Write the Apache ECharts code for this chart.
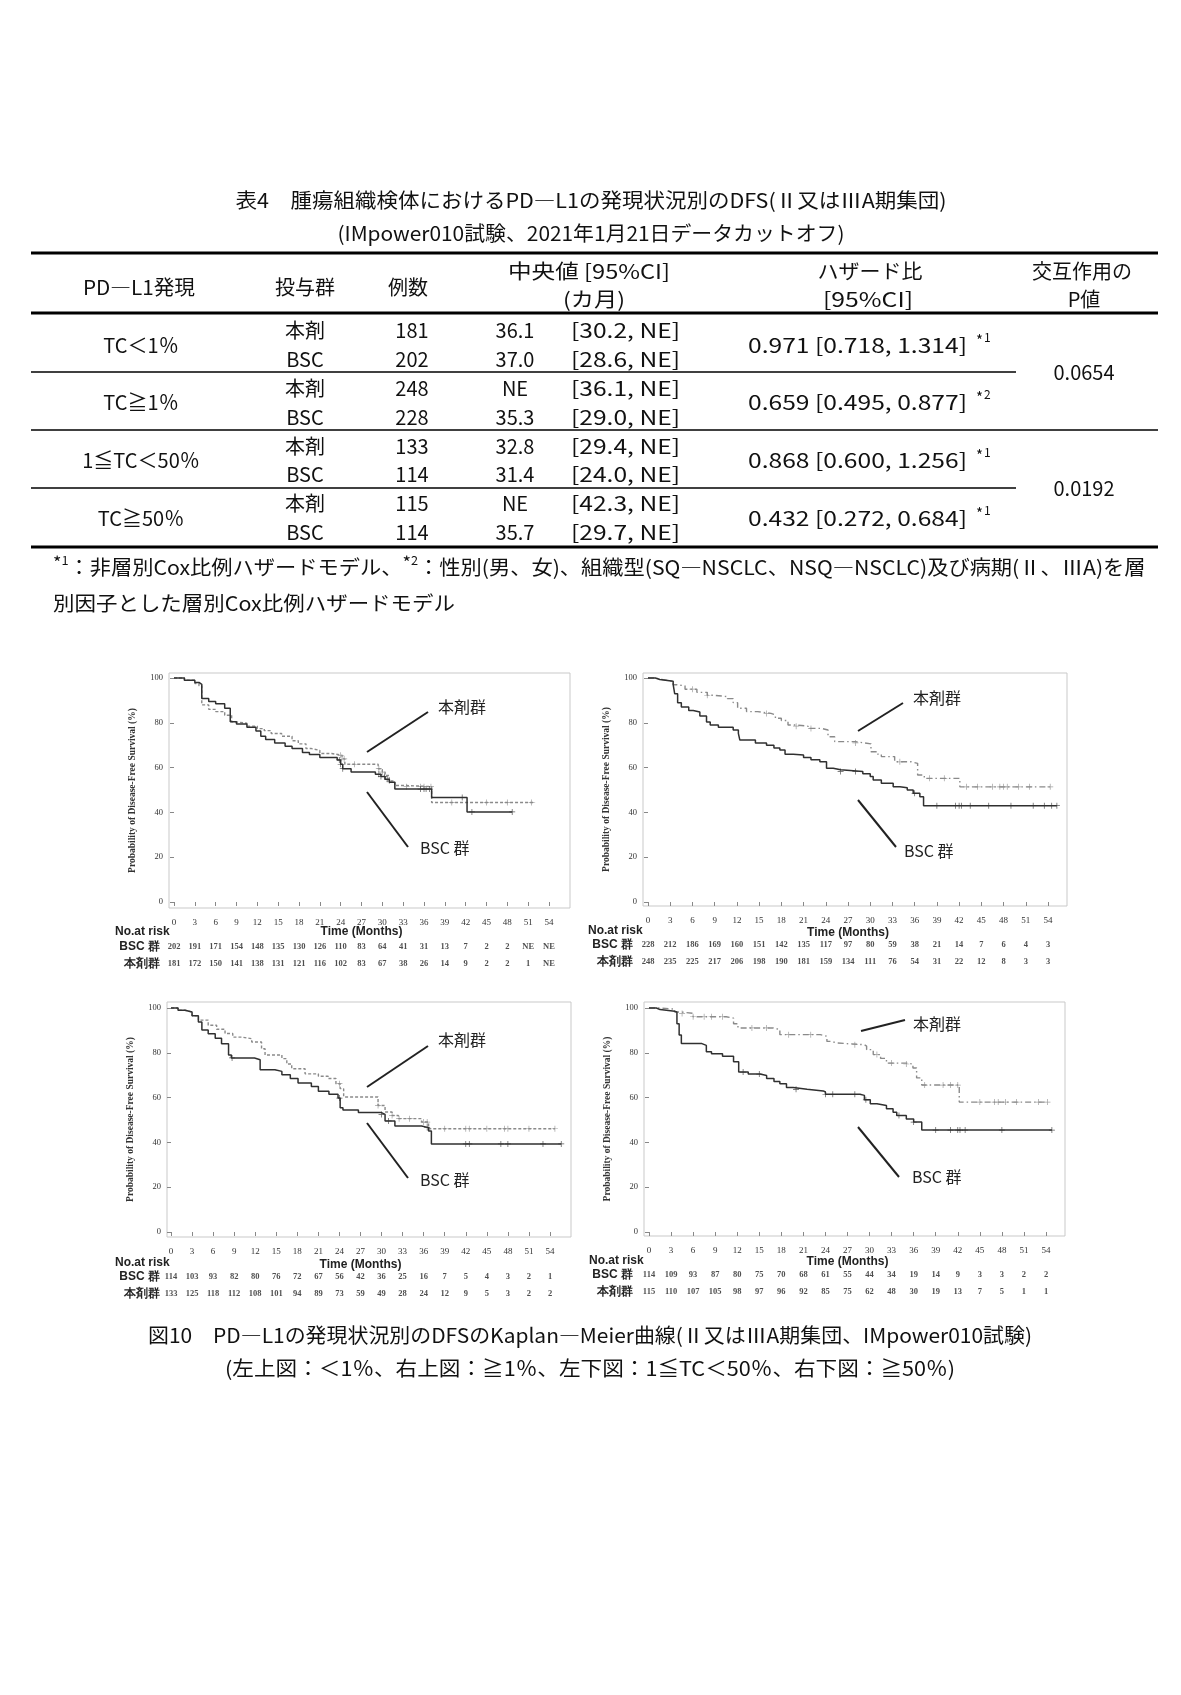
<!DOCTYPE html>
<html><head><meta charset="utf-8">
<script src="https://cdn.jsdelivr.net/npm/echarts@6/dist/echarts.min.js"></script>
<style>html,body{margin:0;padding:0;background:#fff}#c{width:1181px;height:1695px}</style>
</head><body><div id="c"></div>
<script>
// ---------- table data ----------
const pdGroups = ['TC＜1％','TC≧1％','1≦TC＜50％','TC≧50％'];
const arms = ['本剤','BSC'];
const nPatients = [181,202,248,228,133,114,115,114];
const medians = ['36.1','37.0','NE','35.3','32.8','31.4','NE','35.7'];
const medianCI = ['[30.2, NE]','[28.6, NE]','[36.1, NE]','[29.0, NE]','[29.4, NE]','[24.0, NE]','[42.3, NE]','[29.7, NE]'];
const hazard = ['0.971 [0.718, 1.314]','0.659 [0.495, 0.877]','0.868 [0.600, 1.256]','0.432 [0.272, 0.684]'];
const hrNote = ['1','2','1','1'];
const pInteraction = ['0.0654','0.0192'];

// ---------- KM axis ticks ----------
const months = [0,3,6,9,12,15,18,21,24,27,30,33,36,39,42,45,48,51,54];
const yTicks = [0,20,40,60,80,100];

// ---------- KM curves [month, survival %] ----------
const c1_bsc = [[0,100],[1.5,99],[3.0,98],[3.6,97.2],[4.0,90.8],[5,89.5],[6,88.5],[7.3,86.5],[8.1,80.5],[9,79.5],[10.5,78],[11.8,76.3],[12.5,74],[13.2,72.5],[14.5,71],[16,69.5],[17,68.5],[18.5,66.7],[19.5,65.8],[21,64.5],[23.5,63.4],[24,61.5],[24.3,59.5],[25.5,58],[29,57],[29.8,56],[30.4,54.8],[31,53.5],[31.8,50.4],[37.1,46.6],[42.2,40.2],[48.7,40.2]];
const c1_hon = [[0,100],[1.5,99],[3.0,97.5],[3.6,96.5],[4.0,88],[5,86],[6,85],[7.3,83.4],[8.3,80.4],[9,79.8],[10.5,78.5],[12,77.4],[13,76.5],[14,75.2],[15.5,74],[17,72],[17.9,70.6],[19,68.5],[19.8,67.7],[21,66.3],[22.7,65.5],[24.2,63.9],[24.6,61.5],[29.4,59.5],[30,58],[30.4,56.5],[31,54],[31.8,52],[33.5,51.5],[37.1,44.4],[52,44.4]];
const c2_bsc = [[0,100],[1,99.3],[1.6,98.5],[3.4,97],[3.6,93],[4,89],[4.5,87],[5.5,85.5],[6.1,84.8],[7,83],[7.9,80.4],[8.4,79],[9.5,78],[11.5,76.8],[12.2,75.3],[12.4,72.3],[14.5,71],[16,70],[17,68.8],[17.8,67.9],[18.5,66],[19.6,65.6],[21,64.5],[22,63.5],[23.2,62.6],[24.1,59.7],[25,59],[26,58.3],[29,57.3],[30,56],[30.4,54.5],[31.5,53],[33.1,51.5],[34,51],[35,50],[35.8,48.5],[36.7,47],[37.2,43],[55.2,43]];
const c2_hon = [[0,100],[1,99.3],[2,98.5],[3.4,97],[3.9,96.5],[5,95],[6.6,93.6],[8,92.3],[8.9,91.7],[10.7,90.8],[11.5,89],[12.1,86.5],[13.3,85],[14.8,84.2],[16.6,83.5],[17.2,82],[18,81],[18.9,79],[20,78.5],[21.6,77.5],[23.4,76.8],[24.3,73.8],[25.2,71.6],[28,71],[29.2,70.6],[30.1,67.1],[31,66],[31.5,64.9],[33.3,62.6],[35.5,61.9],[36.4,56.7],[37.3,55.2],[42.1,51.4],[54.3,51.4]];
const c3_bsc = [[0,100],[1,99],[2,98.2],[3,96.5],[3.9,93.8],[4.4,90.2],[5.3,88.5],[6.3,86.5],[7.2,84],[8.2,79],[8.6,77.7],[11.9,76.9],[12.7,72.4],[14.8,71.7],[15.8,70.2],[17,68.5],[18.1,66.5],[20,65],[21,62.8],[22.5,61.5],[23.8,59.8],[24.1,55.5],[24.5,54.5],[26.7,53.3],[30,52.5],[30.5,49.6],[31.9,47.3],[35.7,46.6],[36.7,45.1],[37.1,39.3],[55.6,39.3]];
const c3_hon = [[0,100],[1,99],[2,98.2],[3,96.5],[3.9,94.6],[5.3,92.3],[6.5,90.5],[7.7,88.6],[8.8,87],[10.1,86.3],[11.5,84.8],[12.9,81.8],[13.4,79],[15.8,77.4],[16.5,75],[17.2,72.9],[19.1,70.6],[21,69.5],[22.4,68.5],[23.5,66.2],[24.1,64],[24.6,60.3],[29.5,56.5],[30.5,53.6],[31.5,52],[32.4,50.6],[35.7,49.1],[36.7,46.1],[54.7,46.1]];
const c4_bsc = [[0,100],[1,99.3],[1.5,98.5],[3.5,98.2],[3.8,93],[4.1,88],[4.4,84.1],[7.2,83.3],[7.8,80.5],[8.5,79.6],[10,78.5],[11.5,76],[12.2,71.4],[13.5,70.5],[15.1,69.9],[16,68.5],[17,67.2],[17.8,66.2],[18.7,64.5],[19.6,63.7],[21.5,63],[23.7,62.5],[24,61.5],[28.7,61],[29.3,59],[30.1,57.3],[31,56.5],[32.3,55],[33.2,53.5],[33.7,52],[35,50.5],[36,49.1],[37.1,45.5],[54.8,45.5]];
const c4_hon = [[0,100],[1.5,99.5],[3.5,98.2],[4.4,97.6],[6,96.1],[10.5,95.5],[11.5,93],[12.1,91.1],[16.9,90.4],[17.8,88.1],[23.3,87.4],[24.2,85.1],[24.8,84.4],[25.5,83.6],[29.3,83],[29.6,81.4],[30.5,79.2],[31.5,77.5],[32.3,75.4],[35,75],[35.9,73.2],[36.4,68.8],[37.1,65.6],[42.2,58],[54.2,58]];

// ---------- censor times (months) ----------
const c1_bscCens = [23.8,24.0,24.3,29.5,29.8,30.3,30.7,35.5,36,36.3,36.8,41.5,42.9,48.7];
const c1_honCens = [24,24.5,26,29.5,30,31,33.5,35.5,36,37,40,45,48,51.5];
const c2_bscCens = [26,28,36,39,41.5,42,42.3,43.5,46,49,52,53.5,54.5,55.2];
const c2_honCens = [6,8,16,20,22,28,34,38,40,43,44.5,46.5,47.5,48,48.5,50,51.5,54.3];
const c3_bscCens = [8.7,24,30,31,36.5,42,42.5,47,48,53,55.6];
const c3_honCens = [24,29.5,31.5,32.5,34,36,36.5,39,42,42.5,45,47.5,48,51,54.7];
const c4_bscCens = [12.8,15,20,24,25,28,29.5,34,36,39,41,42,42.3,43,48,54.8];
const c4_honCens = [4.5,6,7.5,8.5,10,14,16,19,22,28,31,33,35,37.5,40,41,42,45,47,47.5,48.5,50,53,54.2];

// ---------- numbers at risk ----------
const c1_riskBsc = ['202','191','171','154','148','135','130','126','110','83','64','41','31','13','7','2','2','NE','NE'];
const c1_riskHon = ['181','172','150','141','138','131','121','116','102','83','67','38','26','14','9','2','2','1','NE'];
const c2_riskBsc = ['228','212','186','169','160','151','142','135','117','97','80','59','38','21','14','7','6','4','3'];
const c2_riskHon = ['248','235','225','217','206','198','190','181','159','134','111','76','54','31','22','12','8','3','3'];
const c3_riskBsc = ['114','103','93','82','80','76','72','67','56','42','36','25','16','7','5','4','3','2','1'];
const c3_riskHon = ['133','125','118','112','108','101','94','89','73','59','49','28','24','12','9','5','3','2','2'];
const c4_riskBsc = ['114','109','93','87','80','75','70','68','61','55','44','34','19','14','9','3','3','2','2'];
const c4_riskHon = ['115','110','107','105','98','97','96','92','85','75','62','48','30','19','13','7','5','1','1'];

// ---------- layout ----------
const FJ = "'Noto Sans CJK JP', sans-serif";
const FS = "'Liberation Serif', 'DejaVu Serif', serif";
const panels = [
  {L:169,T:673,W:401,H:235,x0:174,x54:549,y100:678,y0:902,bsc:c1_bsc,hon:c1_hon,bc:c1_bscCens,hc:c1_honCens,rb:c1_riskBsc,rh:c1_riskHon,riskY:[947,964],nar:[115,932],lblR:160,nameY:932,honDash:[3,2],
   ann:{ht:[438,707],hl:[428,712,367,752],bt:[420,848],bl:[367,792,408,847]}},
  {L:643,T:673,W:424,H:233,x0:648,x54:1048,y100:678,y0:902,bsc:c2_bsc,hon:c2_hon,bc:c2_bscCens,hc:c2_honCens,rb:c2_riskBsc,rh:c2_riskHon,riskY:[945,962],nar:[588,931],lblR:633,nameY:933,honDash:[6,3,1.5,3],
   ann:{ht:[913,698],hl:[903,703,858,731],bt:[904,851],bl:[858,800,896,847]}},
  {L:167,T:1002,W:404,H:235,x0:171,x54:550,y100:1008,y0:1232,bsc:c3_bsc,hon:c3_hon,bc:c3_bscCens,hc:c3_honCens,rb:c3_riskBsc,rh:c3_riskHon,riskY:[1277,1294],nar:[115,1263],lblR:160,nameY:1265,honDash:[3,2],
   ann:{ht:[438,1040],hl:[428,1046,367,1087],bt:[420,1180],bl:[367,1123,408,1178]}},
  {L:644,T:1002,W:421,H:234,x0:649,x54:1046,y100:1008,y0:1232,bsc:c4_bsc,hon:c4_hon,bc:c4_bscCens,hc:c4_honCens,rb:c4_riskBsc,rh:c4_riskHon,riskY:[1275,1292],nar:[589,1261],lblR:633,nameY:1262,honDash:[6,3,1.5,3],
   ann:{ht:[913,1024],hl:[905,1020,861,1031],bt:[912,1177],bl:[858,1127,899,1177]}}
];

function stepAt(curve, t){ let v = curve[0][1]; for (const p of curve){ if (p[0] <= t) v = p[1]; else break; } return v; }
const plusPath = 'path://M4.4,0h1.2v4.4h4.4v1.2h-4.4v4.4h-1.2v-4.4h-4.4v-1.2h4.4z';

const mctx = document.createElement('canvas').getContext('2d');
function measure(s, size, fam){ mctx.font = size + 'px ' + fam; return mctx.measureText(s).width; }

const grids = [], xAxes = [], yAxes = [], series = [], graphics = [];
function txt(s, x, y, opt){
  opt = opt || {};
  const size = opt.size || 20, fam = opt.family || FJ;
  const el = {type:'text', x:x, y:y, silent:true, style:Object.assign({text:s, fill:'#111', font:size+'px '+fam, textAlign:opt.align||'center', textVerticalAlign:'middle'}, opt.style||{})};
  if (opt.w) el.scaleX = opt.w / measure(s, size, fam);
  return el;
}
function ln(x1,y1,x2,y2,w,c){ return {type:'line', silent:true, shape:{x1,y1,x2,y2}, style:{stroke:c||'#000', lineWidth:w||1}}; }

panels.forEach((p, k) => {
  const ppm = (p.x54 - p.x0)/54, ppp = (p.y0 - p.y100)/100;
  const xmin = (p.L - p.x0)/ppm, xmax = (p.L + p.W - p.x0)/ppm;
  const ymax = 100 + (p.y100 - p.T)/ppp, ymin = -(p.T + p.H - p.y0)/ppp;
  const gi = grids.length;
  grids.push({left:p.L, top:p.T, width:p.W, height:p.H, show:true, borderColor:'#c9c9c9', borderWidth:1, backgroundColor:'#fff'});
  xAxes.push({type:'value', gridIndex:gi, min:xmin, max:xmax, splitLine:{show:false}, axisLine:{show:false},
    axisTick:{show:true, length:4, lineStyle:{color:'#888'}, customValues:months},
    axisLabel:{fontSize:9, fontFamily:FS, color:'#333', margin:10, customValues:months, formatter:v=>String(Math.round(v))}});
  yAxes.push({type:'value', gridIndex:gi, min:ymin, max:ymax, splitLine:{show:false}, axisLine:{show:false},
    axisTick:{show:true, length:4, lineStyle:{color:'#888'}, customValues:yTicks},
    axisLabel:{fontSize:8.5, fontFamily:FS, color:'#333', margin:6, customValues:yTicks, formatter:v=>String(Math.round(v))},
    name:'Probability of Disease-Free Survival (%)', nameLocation:'middle', nameRotate:90, nameGap:31,
    nameTextStyle:{fontSize:9.5, fontFamily:FS, fontWeight:'bold', color:'#333'}});
  series.push({type:'line', xAxisIndex:gi, yAxisIndex:gi, data:p.hon, step:'end', showSymbol:false, symbol:'none', silent:true,
    lineStyle:{color:'#8a8a8a', width:1.4, type:p.honDash}});
  series.push({type:'line', xAxisIndex:gi, yAxisIndex:gi, data:p.bsc, step:'end', showSymbol:false, symbol:'none', silent:true,
    lineStyle:{color:'#303030', width:1.5, type:'solid'}});
  series.push({type:'scatter', xAxisIndex:gi, yAxisIndex:gi, data:p.hc.map(t=>[t, stepAt(p.hon,t)]), symbol:plusPath, symbolSize:6, silent:true, itemStyle:{color:'#8a8a8a'}});
  series.push({type:'scatter', xAxisIndex:gi, yAxisIndex:gi, data:p.bc.map(t=>[t, stepAt(p.bsc,t)]), symbol:plusPath, symbolSize:6, silent:true, itemStyle:{color:'#303030'}});
  [p.rb, p.rh].forEach((arr, r) => {
    const ri = grids.length;
    grids.push({left:p.L, top:p.riskY[r]-5, width:p.W, height:10, show:false});
    xAxes.push({type:'value', gridIndex:ri, min:xmin, max:xmax, show:false});
    yAxes.push({type:'value', gridIndex:ri, min:0, max:1, show:false});
    series.push({type:'scatter', xAxisIndex:ri, yAxisIndex:ri, silent:true, symbol:'circle', symbolSize:1, itemStyle:{color:'rgba(0,0,0,0)'},
      data:months.map(m=>[m,0.5]),
      label:{show:true, position:'inside', formatter:q=>arr[q.dataIndex], fontSize:8.5, fontFamily:FS, fontWeight:'bold', color:'#222'}});
  });
  graphics.push(txt('Time (Months)', (p.x0+p.x54)/2, p.nameY, {size:10.5, family:FS, style:{fontWeight:'bold', fill:'#222'}}));
  graphics.push(txt('No.at risk', p.nar[0], p.nar[1], {size:8.5, family:FS, align:'left', style:{fontWeight:'bold', fill:'#222'}}));
  graphics.push(txt('BSC 群', p.lblR, p.riskY[0], {size:8.5, family:FJ, align:'right', style:{fontWeight:'bold', fill:'#222'}}));
  graphics.push(txt('本剤群', p.lblR, p.riskY[1], {size:8.5, family:FJ, align:'right', style:{fontWeight:'bold', fill:'#222'}}));
  const a = p.ann;
  graphics.push(txt('本剤群', a.ht[0], a.ht[1], {size:16, align:'left', style:{fill:'#222'}}));
  graphics.push(txt('BSC 群', a.bt[0], a.bt[1], {size:16, align:'left', style:{fill:'#222'}}));
  graphics.push(ln(a.hl[0],a.hl[1],a.hl[2],a.hl[3],2,'#222'));
  graphics.push(ln(a.bl[0],a.bl[1],a.bl[2],a.bl[3],2,'#222'));
});

// ---------- table (text + rules) ----------
graphics.push(txt('表4　腫瘍組織検体におけるPD―L1の発現状況別のDFS(Ⅱ又はⅢA期集団)', 591, 200, {w:711}));
graphics.push(txt('(IMpower010試験、2021年1月21日データカットオフ)', 591, 233, {w:507}));
graphics.push(ln(31,253,1158,253,3));
graphics.push(txt('PD―L1発現', 139, 287, {w:112}));
graphics.push(txt('投与群', 305, 287));
graphics.push(txt('例数', 408, 287));
graphics.push(txt('中央値 [95%CI]', 589, 271, {w:162}));
graphics.push(txt('(カ月)', 594, 299, {w:62}));
graphics.push(txt('ハザード比', 870, 271, {w:105}));
graphics.push(txt('[95%CI]', 868, 299, {w:90}));
graphics.push(txt('交互作用の', 1082, 271));
graphics.push(txt('P値', 1084, 299));
graphics.push(ln(31,313,1158,313,3));
const rowYs = [330,359,388,417,446,474,503,532];
rowYs.forEach((y,i)=>{
  graphics.push(txt(arms[i%2], 305, y));
  graphics.push(txt(String(nPatients[i]), 412, y));
  graphics.push(txt(medians[i], 515, y));
  graphics.push(txt(medianCI[i], 571, y, {align:'left', w:109}));
});
const pairYs = [345,402,460,518];
pairYs.forEach((y,g)=>{
  graphics.push(txt(pdGroups[g], 141, y));
  graphics.push(txt(hazard[g], 748, y, {align:'left', w:219}));
  graphics.push(txt('*', 976, y-5, {size:15, align:'left'}));
  graphics.push(txt(hrNote[g], 984, y-8, {size:12, align:'left'}));
});
graphics.push(txt(pInteraction[0], 1084, 372));
graphics.push(txt(pInteraction[1], 1084, 488));
graphics.push(ln(31,372,1016,372,1.5));
graphics.push(ln(31,430,1158,430,1.5));
graphics.push(ln(31,488,1016,488,1.5));
graphics.push(ln(31,547,1158,547,3));
// footnote
const fn1a = '：非層別Cox比例ハザードモデル、', fn1b = '：性別(男、女)、組織型(SQ―NSCLC、NSQ―NSCLC)及び病期(Ⅱ、ⅢA)を層';
const fnScale = (1158 - 53) / (measure('*1' + fn1a + '*2' + fn1b, 20, FJ));
graphics.push({type:'text', x:53, y:567, silent:true, scaleX:fnScale, style:{
  text:'{s|*}{t|1}{n|' + fn1a + '}{s|*}{t|2}{n|' + fn1b + '}',
  textAlign:'left', textVerticalAlign:'middle', fill:'#111',
  rich:{n:{fontSize:20, fontFamily:FJ, fill:'#111', lineHeight:26}, s:{fontSize:17, fontFamily:FJ, fill:'#111', lineHeight:26, verticalAlign:'top'}, t:{fontSize:12, fontFamily:FJ, fill:'#111', lineHeight:26, verticalAlign:'top'}}}});
graphics.push(txt('別因子とした層別Cox比例ハザードモデル', 53, 603, {align:'left', w:402}));

// ---------- figure caption ----------
graphics.push(txt('図10　PD―L1の発現状況別のDFSのKaplan―Meier曲線(Ⅱ又はⅢA期集団、IMpower010試験)', 590, 1335, {w:884}));
graphics.push(txt('(左上図：＜1％、右上図：≧1％、左下図：1≦TC＜50％、右下図：≧50％)', 590, 1368, {w:730}));

const chart = echarts.init(document.getElementById('c'), null, {renderer:'canvas'});
chart.setOption({backgroundColor:'#fff', animation:false, grid:grids, xAxis:xAxes, yAxis:yAxes, series:series, graphic:{elements:graphics}});
</script></body></html>
